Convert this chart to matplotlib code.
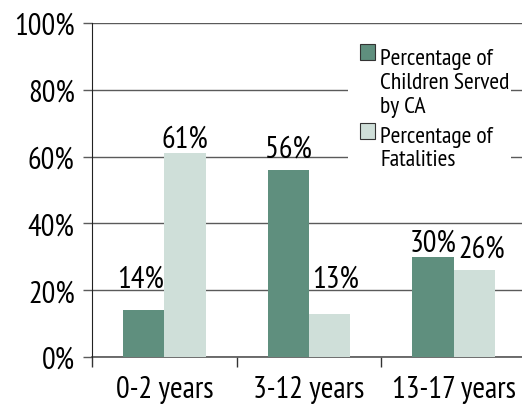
import numpy as np
import matplotlib.pyplot as plt
from matplotlib.patches import Rectangle

categories = ['0-2 years', '3-12 years', '13-17 years']
served = [14, 56, 30]
fatalities = [61, 13, 26]
yticks = [0, 20, 40, 60, 80, 100]
legend_labels = ['Percentage of\nChildren Served\nby CA', 'Percentage of\nFatalities']

dark = '#5f8f7e'
light = '#cfdfd9'

plt.rcParams['font.family'] = ['PT Sans Narrow', 'DejaVu Sans']

W, H = 522, 410
fig = plt.figure(figsize=(W / 100, H / 100), dpi=100)
ax = fig.add_axes([92 / W, 1 - 358 / H, 434 / W, 334 / H])

x = np.arange(len(categories))
w = 0.285
b1 = ax.bar(x - w / 2, served, w, color=dark, zorder=3)
b2 = ax.bar(x + w / 2, fatalities, w, color=light, zorder=3)

# value labels sit just above the bars, never lower than ~21%
lift = [[0, 2, 0], [0, 0, 2]]
shift = [[-0.02, 0, 0], [0, 0.04, 0.05]]
for k, bars in enumerate((b1, b2)):
    for i, r in enumerate(bars):
        v = r.get_height()
        ax.text(r.get_x() + r.get_width() / 2 + shift[k][i], max(v + 2, 21) + lift[k][i], f'{int(v)}%',
                ha='center', va='baseline', fontsize=22, zorder=5)

ax.set_xlim(-0.5, 2.5)
ax.set_ylim(0, 100)
ax.set_yticks(yticks)
ax.set_yticklabels([f'{t}%' for t in yticks], fontsize=22)
ax.set_xticks(x)
ax.set_xticklabels(categories, fontsize=22)
ax.set_xticks([-0.5, 0.5, 1.5], minor=True)
ax.tick_params(axis='x', which='major', length=0, pad=13)
ax.tick_params(axis='x', which='minor', length=7.5, width=1, color='#333333')
ax.tick_params(axis='y', length=6.5, width=1, color='#5a5a5a', pad=6)

ax.yaxis.grid(True, color='#5a5a5a', linewidth=1.0, zorder=0)
for s in ['top', 'right']:
    ax.spines[s].set_visible(False)
ax.spines['left'].set_color('#222222')
ax.spines['left'].set_zorder(4)
ax.spines['bottom'].set_color('#555555')
ax.spines['bottom'].set_linewidth(1.2)


# legend box, built by hand so the swatch lines up with the first text line
def fx(px):
    return px / W


def fy(py):
    return 1 - py / H


fig.patches.append(Rectangle((fx(348), fy(172)), fx(511) - fx(348), fy(35) - fy(172),
                             transform=fig.transFigure, facecolor='white', edgecolor='none', zorder=5))
# swatch top (px) and baseline of the last text line (px)
for lab, col, top, base in zip(legend_labels, [dark, light], [44.5, 123.5], [112.5, 166.5]):
    fig.patches.append(Rectangle((fx(360), fy(top + 16)), 15 / W, 16 / H, transform=fig.transFigure,
                                 facecolor=col, edgecolor='#333333', linewidth=0.8, zorder=6))
    fig.text(fx(380), fy(base), lab, ha='left', va='baseline', fontsize=17,
             linespacing=1.18, zorder=6)

fig.savefig('out.png', dpi=100)
